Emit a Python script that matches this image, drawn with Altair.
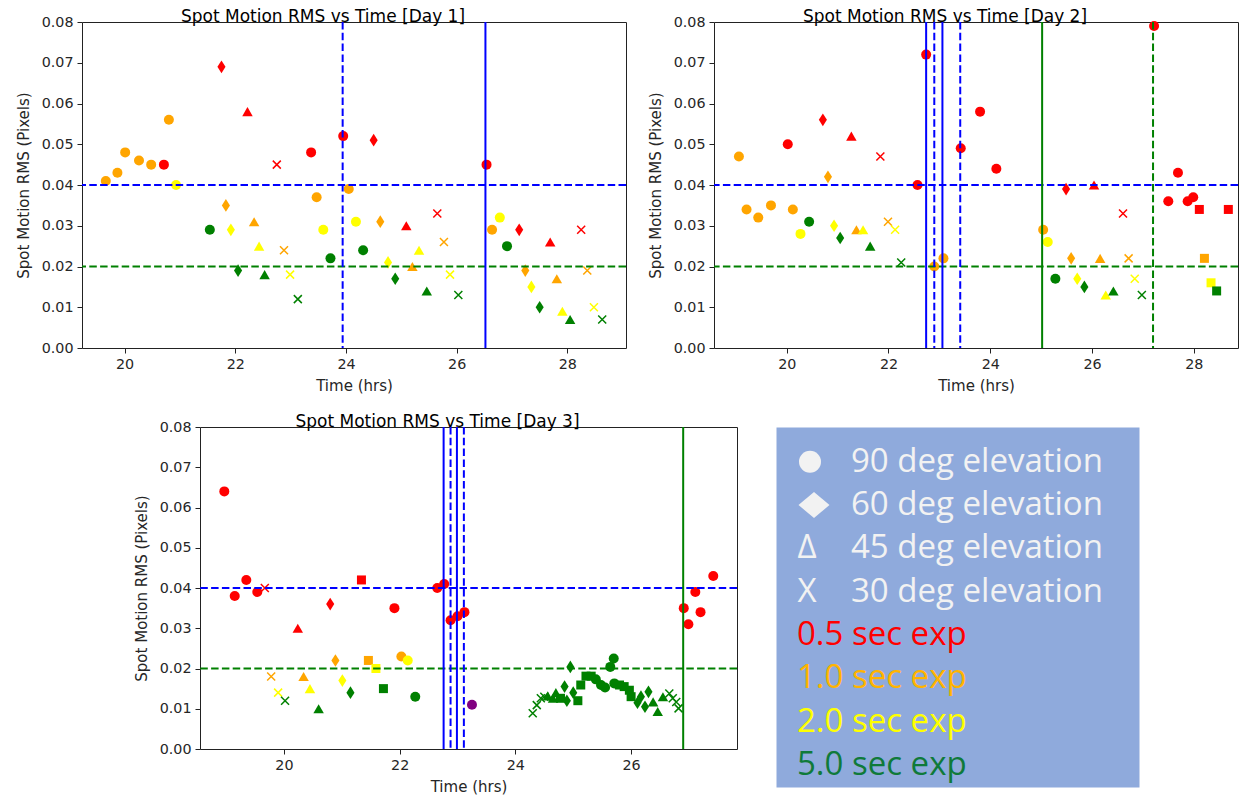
import altair as alt
import pandas as pd

# ---------------- shared categories ----------------
EXP_CODES = ["0.5", "1.0", "2.0", "5.0", "P"]
EXP_COLORS = ["#ff0000", "#ffa500", "#ffff00", "#008000", "#800080"]
Y_TICKS = [0.0, 0.01, 0.02, 0.03, 0.04, 0.05, 0.06, 0.07, 0.08]

H_LINE_RMS = [0.04, 0.02]
H_LINE_COLOR = ["#0000ff", "#008000"]
H_LINE_STYLE = ["dash", "dash"]

# ---------------- Day 1 ----------------
D1_TIME = [19.66, 19.87, 20.01, 20.26, 20.48, 20.71, 20.80, 20.93, 21.54,
           21.75, 21.83, 21.92, 22.05, 22.22, 22.34, 22.43, 22.53,
           22.75, 22.88, 22.99, 23.13, 23.37, 23.47, 23.59, 23.72,
           23.95, 24.05, 24.18, 24.31, 24.50, 24.62, 24.76, 24.89,
           25.09, 25.20, 25.32, 25.46, 25.65, 25.77, 25.88, 26.03,
           26.54, 26.64, 26.78, 26.91, 27.13, 27.24, 27.35, 27.50,
           27.69, 27.81, 27.91, 28.05, 28.25, 28.36, 28.48, 28.63]
D1_RMS = [0.041, 0.043, 0.048, 0.046, 0.045, 0.045, 0.056, 0.040, 0.029,
          0.069, 0.035, 0.029, 0.019, 0.058, 0.031, 0.025, 0.018,
          0.045, 0.024, 0.018, 0.012, 0.048, 0.037, 0.029, 0.022,
          0.052, 0.039, 0.031, 0.024, 0.051, 0.031, 0.021, 0.017,
          0.030, 0.020, 0.024, 0.014, 0.033, 0.026, 0.018, 0.013,
          0.045, 0.029, 0.032, 0.025, 0.029, 0.019, 0.015, 0.010,
          0.026, 0.017, 0.009, 0.007, 0.029, 0.019, 0.010, 0.007]
D1_EXP = ["1.0", "1.0", "1.0", "1.0", "1.0", "0.5", "1.0", "2.0", "5.0",
          "0.5", "1.0", "2.0", "5.0", "0.5", "1.0", "2.0", "5.0",
          "0.5", "1.0", "2.0", "5.0", "0.5", "1.0", "2.0", "5.0",
          "0.5", "1.0", "2.0", "5.0", "0.5", "1.0", "2.0", "5.0",
          "0.5", "1.0", "2.0", "5.0", "0.5", "1.0", "2.0", "5.0",
          "0.5", "1.0", "2.0", "5.0", "0.5", "1.0", "2.0", "5.0",
          "0.5", "1.0", "2.0", "5.0", "0.5", "1.0", "2.0", "5.0"]
D1_MARK = ["o", "o", "o", "o", "o", "o", "o", "o", "o",
           "d", "d", "d", "d", "^", "^", "^", "^",
           "x", "x", "x", "x", "o", "o", "o", "o",
           "o", "o", "o", "o", "d", "d", "d", "d",
           "^", "^", "^", "^", "x", "x", "x", "x",
           "o", "o", "o", "o", "d", "d", "d", "d",
           "^", "^", "^", "^", "x", "x", "x", "x"]
D1_VLINE_TIME = [23.94, 26.52]
D1_VLINE_COLOR = ["#0000ff", "#0000ff"]
D1_VLINE_STYLE = ["dash", "solid"]

# ---------------- Day 2 ----------------
D2_TIME = [19.06, 19.21, 19.44, 19.69, 20.02, 20.12, 20.27, 20.44,
           20.71, 20.81, 20.93, 21.05, 21.27, 21.37, 21.50, 21.64,
           21.84, 21.99, 22.13, 22.25, 22.57, 22.74, 22.90, 23.08,
           23.42, 23.80, 24.12, 25.04, 25.13, 25.28, 25.49, 25.59,
           25.71, 25.85, 26.04, 26.16, 26.27, 26.42, 26.61, 26.72,
           26.84, 26.98, 27.22, 27.50, 27.69, 27.88, 27.99, 28.11,
           28.21, 28.34, 28.45, 28.68]
D2_RMS = [0.047, 0.034, 0.032, 0.035, 0.050, 0.034, 0.028, 0.031,
          0.056, 0.042, 0.030, 0.027, 0.052, 0.029, 0.029, 0.025,
          0.047, 0.031, 0.029, 0.021, 0.040, 0.072, 0.020, 0.022,
          0.049, 0.058, 0.044, 0.029, 0.026, 0.017, 0.039, 0.022,
          0.017, 0.015, 0.040, 0.022, 0.013, 0.014, 0.033, 0.022,
          0.017, 0.013, 0.079, 0.036, 0.043, 0.036, 0.037, 0.034,
          0.022, 0.016, 0.014, 0.034]
D2_EXP = ["1.0", "1.0", "1.0", "1.0", "0.5", "1.0", "2.0", "5.0",
          "0.5", "1.0", "2.0", "5.0", "0.5", "1.0", "2.0", "5.0",
          "0.5", "1.0", "2.0", "5.0", "0.5", "0.5", "1.0", "1.0",
          "0.5", "0.5", "0.5", "1.0", "2.0", "5.0", "0.5", "1.0",
          "2.0", "5.0", "0.5", "1.0", "2.0", "5.0", "0.5", "1.0",
          "2.0", "5.0", "0.5", "0.5", "0.5", "0.5", "0.5", "0.5",
          "1.0", "2.0", "5.0", "0.5"]
D2_MARK = ["o", "o", "o", "o", "o", "o", "o", "o",
           "d", "d", "d", "d", "^", "^", "^", "^",
           "x", "x", "x", "x", "o", "o", "o", "o",
           "o", "o", "o", "o", "o", "o", "d", "d",
           "d", "d", "^", "^", "^", "^", "x", "x",
           "x", "x", "o", "o", "o", "o", "o", "s",
           "s", "s", "s", "s"]
D2_VLINE_TIME = [22.74, 22.90, 23.06, 23.41, 25.02, 27.20]
D2_VLINE_COLOR = ["#0000ff", "#0000ff", "#0000ff", "#0000ff", "#008000", "#008000"]
D2_VLINE_STYLE = ["solid", "dash", "solid", "dash", "solid", "dash"]

# ---------------- Day 3 ----------------
D3_TIME = [18.97, 19.15, 19.35, 19.54, 19.67, 19.78, 19.90, 20.02,
           20.24, 20.34, 20.45, 20.60, 20.80, 20.89, 21.01, 21.15,
           21.34, 21.46, 21.59, 21.72, 21.91, 22.03, 22.14, 22.27,
           22.65, 22.77, 22.88, 23.00, 23.12, 23.25,
           24.30, 24.37, 24.44, 24.50, 24.56, 24.65, 24.70, 24.78,
           24.85, 24.89, 24.95, 25.00, 25.08, 25.13, 25.22, 25.31,
           25.39, 25.48, 25.55, 25.64, 25.70, 25.71, 25.80, 25.88,
           25.97, 26.00, 26.11, 26.17, 26.24, 26.30, 26.38, 26.46,
           26.55, 26.66, 26.72, 26.78, 26.82,
           26.91, 26.99, 27.11, 27.20, 27.42]
D3_RMS = [0.064, 0.038, 0.042, 0.039, 0.040, 0.018, 0.014, 0.012,
          0.030, 0.018, 0.015, 0.010, 0.036, 0.022, 0.017, 0.014,
          0.042, 0.022, 0.020, 0.015, 0.035, 0.023, 0.022, 0.013,
          0.040, 0.041, 0.032, 0.033, 0.034, 0.011,
          0.0089, 0.0109, 0.0126, 0.0130, 0.0132, 0.0126, 0.0140, 0.0126,
          0.0155, 0.0120, 0.0204, 0.0140, 0.0120, 0.0159, 0.0181, 0.0181,
          0.0173, 0.0159, 0.0153, 0.0204, 0.0225, 0.0163, 0.0159, 0.0155,
          0.0146, 0.0130, 0.0115, 0.0130, 0.0105, 0.0142, 0.0117, 0.0093,
          0.0130, 0.0138, 0.0126, 0.0117, 0.0101,
          0.035, 0.031, 0.039, 0.034, 0.043]
D3_EXP = ["0.5", "0.5", "0.5", "0.5", "0.5", "1.0", "2.0", "5.0",
          "0.5", "1.0", "2.0", "5.0", "0.5", "1.0", "2.0", "5.0",
          "0.5", "1.0", "2.0", "5.0", "0.5", "1.0", "2.0", "5.0",
          "0.5", "0.5", "0.5", "0.5", "0.5", "P",
          "5.0", "5.0", "5.0", "5.0", "5.0", "5.0", "5.0", "5.0",
          "5.0", "5.0", "5.0", "5.0", "5.0", "5.0", "5.0", "5.0",
          "5.0", "5.0", "5.0", "5.0", "5.0", "5.0", "5.0", "5.0",
          "5.0", "5.0", "5.0", "5.0", "5.0", "5.0", "5.0", "5.0",
          "5.0", "5.0", "5.0", "5.0", "5.0",
          "0.5", "0.5", "0.5", "0.5", "0.5"]
D3_MARK = ["o", "o", "o", "o", "x", "x", "x", "x",
           "^", "^", "^", "^", "d", "d", "d", "d",
           "s", "s", "s", "s", "o", "o", "o", "o",
           "o", "o", "o", "o", "o", "o",
           "x", "x", "x", "x", "^", "^", "^", "s",
           "d", "d", "d", "d", "s", "s", "s", "s",
           "o", "o", "o", "o", "o", "o", "s", "s",
           "s", "s", "d", "d", "d", "d", "^", "^",
           "^", "x", "x", "x", "x",
           "o", "o", "o", "o", "o"]
D3_VLINE_TIME = [22.76, 22.88, 22.99, 23.11, 26.90]
D3_VLINE_COLOR = ["#0000ff", "#0000ff", "#0000ff", "#0000ff", "#008000"]
D3_VLINE_STYLE = ["solid", "dash", "solid", "dash", "solid"]

# ---------------- legend box ----------------
LEG_ELEV_TEXT = ["90 deg elevation", "60 deg elevation", "45 deg elevation", "30 deg elevation"]
LEG_ELEV_ROW = [0, 1, 2, 3]
LEG_SYM_TEXT = ["\u0394", "X"]
LEG_SYM_ROW = [2, 3]
LEG_EXP_TEXT = ["0.5 sec exp", "1.0 sec exp", "2.0 sec exp", "5.0 sec exp"]
LEG_EXP_ROW = [4, 5, 6, 7]
LEG_EXP_COLOR = ["#ff0000", "#ffb400", "#ffff00", "#0f7a3a"]

FONT = "DejaVu Sans"
LFONT = "Open Sans"
WHITE = "#f2f2f2"

# marker styles: (code, vega shape, size)
MARKER_STYLES = [
    ("o", "circle", 100),
    ("d", "M0,-1L0.64,0L0,1L-0.64,0Z", 160),
    ("^", "triangle-up", 110),
    ("s", "square", 81),
]
X_PATH = "M-1,-1L1,1M-1,1L1,-1"


def panel(title, t, r, e, m, vt, vc, vs, xdom, xticks, w, h):
    pts = pd.DataFrame({"t": t, "r": r, "e": e, "m": m})
    xsc = alt.Scale(domain=xdom, nice=False, zero=False)
    ysc = alt.Scale(domain=[0, 0.08], nice=False, zero=False)
    xax = alt.Axis(values=xticks, format="d", title="Time (hrs)")
    yax = alt.Axis(values=Y_TICKS, format=".2f", title="Spot Motion RMS (Pixels)")
    col = alt.Color("e:N", scale=alt.Scale(domain=EXP_CODES, range=EXP_COLORS), legend=None)
    base = alt.Chart(pts).encode(
        x=alt.X("t:Q", scale=xsc, axis=xax),
        y=alt.Y("r:Q", scale=ysc, axis=yax),
        color=col,
    )
    layers = []
    for code, shp, sz in MARKER_STYLES:
        layers.append(
            base.transform_filter(alt.datum.m == code).mark_point(
                filled=True, opacity=1, strokeWidth=0, shape=shp, size=sz
            )
        )
    layers.append(
        base.transform_filter(alt.datum.m == "x").mark_point(
            shape=X_PATH, filled=False, size=64, strokeWidth=1.5, opacity=1
        )
    )
    dash = alt.StrokeDash("s:N", scale=alt.Scale(domain=["dash", "solid"], range=[[7.5, 3.3], [1, 0]]), legend=None)
    hl = pd.DataFrame({"v": H_LINE_RMS, "c": H_LINE_COLOR, "s": H_LINE_STYLE})
    layers.append(alt.Chart(hl).mark_rule(strokeWidth=2).encode(
        y=alt.Y("v:Q", scale=ysc, axis=yax),
        stroke=alt.Stroke("c:N", scale=None),
        strokeDash=dash,
    ))
    vl = pd.DataFrame({"v": vt, "c": vc, "s": vs})
    layers.append(alt.Chart(vl).mark_rule(strokeWidth=2).encode(
        x=alt.X("v:Q", scale=xsc, axis=xax),
        stroke=alt.Stroke("c:N", scale=None),
        strokeDash=dash,
    ))
    return alt.layer(*layers).properties(
        width=w, height=h,
        title=alt.TitleParams(title, font=FONT, fontSize=17, fontWeight="normal",
                              color="#000000", dx=-31, dy=26, offset=2, baseline="alphabetic"),
    )


day1 = panel("Spot Motion RMS vs Time [Day 1]", D1_TIME, D1_RMS, D1_EXP, D1_MARK,
             D1_VLINE_TIME, D1_VLINE_COLOR, D1_VLINE_STYLE,
             [19.23, 29.06], [20, 22, 24, 26, 28], 544, 326)
day2 = panel("Spot Motion RMS vs Time [Day 2]", D2_TIME, D2_RMS, D2_EXP, D2_MARK,
             D2_VLINE_TIME, D2_VLINE_COLOR, D2_VLINE_STYLE,
             [18.57, 28.87], [20, 22, 24, 26, 28], 524, 326)
day3 = panel("Spot Motion RMS vs Time [Day 3]", D3_TIME, D3_RMS, D3_EXP, D3_MARK,
             D3_VLINE_TIME, D3_VLINE_COLOR, D3_VLINE_STYLE,
             [18.55, 27.83], [20, 22, 24, 26], 537, 322)

# ---------- legend panel ----------
LEG_H = 360
row_px = 43.3
d0 = -34.7 / row_px
lsc = alt.Scale(domain=[d0, d0 + LEG_H / row_px], reverse=True, nice=False, zero=False)

circ = alt.Chart(pd.DataFrame({"i": [LEG_ELEV_ROW[0]]})).mark_point(
    shape="circle", filled=True, size=484, color=WHITE, opacity=1, strokeWidth=0
).encode(x=alt.value(34), y=alt.Y("i:Q", scale=lsc, axis=None))
diam = alt.Chart(pd.DataFrame({"i": [LEG_ELEV_ROW[1]]})).mark_point(
    shape="M0,-0.84L1,0L0,0.84L-1,0Z", filled=True, size=961, color=WHITE, opacity=1, strokeWidth=0
).encode(x=alt.value(38), y=alt.Y("i:Q", scale=lsc, axis=None))
sym = alt.Chart(pd.DataFrame({"i": LEG_SYM_ROW, "s": LEG_SYM_TEXT})).mark_text(
    font=LFONT, fontSize=33, color=WHITE, align="center", baseline="middle"
).encode(x=alt.value(31), y=alt.Y("i:Q", scale=lsc, axis=None), text="s:N")
elev = alt.Chart(pd.DataFrame({"i": LEG_ELEV_ROW, "s": LEG_ELEV_TEXT})).mark_text(
    font=LFONT, fontSize=33, color=WHITE, align="left", baseline="middle"
).encode(x=alt.value(75), y=alt.Y("i:Q", scale=lsc, axis=None), text="s:N")
expl = alt.Chart(pd.DataFrame({"i": LEG_EXP_ROW, "s": LEG_EXP_TEXT, "c": LEG_EXP_COLOR})).mark_text(
    font=LFONT, fontSize=33, align="left", baseline="middle"
).encode(x=alt.value(21), y=alt.Y("i:Q", scale=lsc, axis=None), text="s:N",
         fill=alt.Fill("c:N", scale=None))

legend_box = alt.layer(circ, diam, sym, elev, expl).properties(
    width=363, height=LEG_H,
    view=alt.ViewBackground(fill="#8faadc", stroke="transparent"),
)

spacer = alt.Chart(pd.DataFrame({"i": [0]})).mark_point(opacity=0).encode(
    x=alt.value(0), y=alt.value(0)
).properties(width=79, height=1, view=alt.ViewBackground(fill="white", stroke="transparent"))

top = alt.hconcat(day1, day2, spacing=88, bounds="flush")
bottom = alt.hconcat(spacer, day3, legend_box, spacing=39, bounds="flush")

chart = alt.vconcat(top, bottom, spacing=18).properties(
    padding={"left": 7, "top": -1, "right": 0, "bottom": 0}
).configure_view(
    stroke="#222222", strokeWidth=1
).configure_axis(
    grid=False, domain=False, tickColor="#222222", tickSize=5, tickWidth=1,
    labelFont=FONT, labelFontSize=14.3, labelColor="#262626", labelPadding=4,
    titleFont=FONT, titleFontSize=15, titleFontWeight="normal", titleColor="#262626",
).configure_axisX(
    labelPadding=4, titlePadding=7
).configure_axisY(
    titlePadding=10
)

chart.save("out.html", embed_options={"renderer": "svg", "actions": False})
